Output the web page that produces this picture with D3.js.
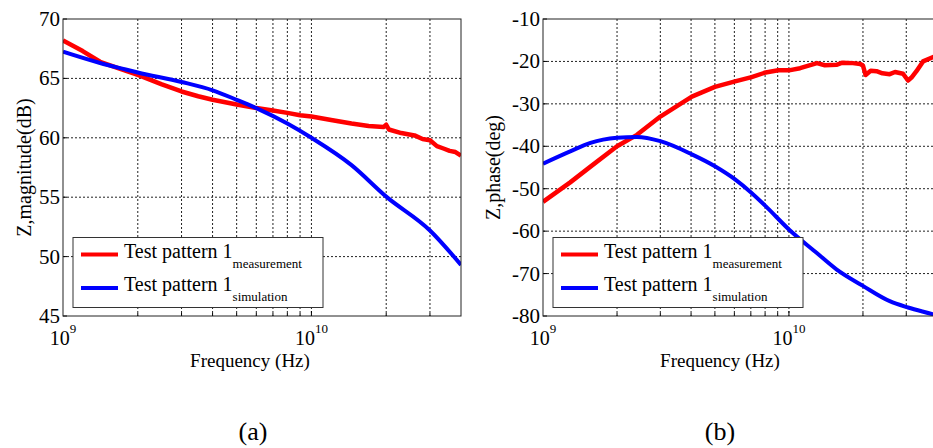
<!DOCTYPE html>
<html>
<head>
<meta charset="utf-8">
<script src="https://cdn.jsdelivr.net/npm/d3@7"></script>
<style>
  body { margin: 0; background: #fff; }
  svg { display: block; }
</style>
</head>
<body>
<div class="d3-container"></div>
<script>
// frequencies in GHz
var magMeasF = [1, 1.2, 1.41, 1.7, 2.0, 2.5, 3.0, 3.5, 4.0, 5.0, 6.0, 7.0, 8.0, 9.0, 10, 12, 14.5, 17, 19.5, 20, 20.5, 23, 26, 28, 30, 32, 34, 36, 38, 40];
var magMeas  = [68.2, 67.3, 66.4, 65.8, 65.3, 64.5, 63.9, 63.5, 63.2, 62.8, 62.5, 62.3, 62.1, 61.9, 61.8, 61.5, 61.2, 61.0, 60.9, 61.1, 60.7, 60.4, 60.2, 59.9, 59.8, 59.3, 59.1, 58.9, 58.8, 58.5];
var magSimF = [1, 1.41, 1.75, 2, 3, 4, 5, 6, 8, 10, 14.5, 20, 30, 40];
var magSim  = [67.25, 66.3, 65.8, 65.5, 64.7, 64.0, 63.2, 62.5, 61.2, 60.0, 57.7, 55.05, 52.2, 49.3];

var phMeasF = [1, 1.29, 1.56, 2.0, 2.41, 3.0, 4.03, 5.0, 6.04, 7.05, 8.04, 9.05, 10, 11.1, 13, 14, 15.6, 16.5, 18.2, 19.5, 20, 20.5, 21.5, 22.7, 24, 25.7, 27, 29.1, 30.5, 31.5, 33, 35.1, 38.4, 40];
var phMeas  = [-53.1, -48.5, -44.8, -40, -37.3, -33.0, -28.3, -26, -24.7, -23.7, -22.6, -22.1, -22.1, -21.6, -20.4, -20.9, -20.8, -20.3, -20.4, -20.6, -21.0, -23.2, -22.2, -22.3, -22.8, -23.0, -22.5, -22.9, -24.5, -23.8, -22.3, -20.0, -19.0, -18.8];
var phSimF = [1, 1.29, 1.56, 2.0, 2.41, 3.0, 4.03, 5.0, 6.04, 7.05, 8.04, 10, 12.95, 15.6, 20, 25.7, 30.5, 38.4, 40];
var phSim  = [-44.1, -41.2, -39.2, -38.0, -37.8, -38.8, -41.9, -44.7, -47.8, -51.0, -54.1, -59.6, -65.1, -69.0, -72.9, -76.5, -78.0, -79.6, -79.9];

var magTicks = [45, 50, 55, 60, 65, 70];
var phTicks = [-80, -70, -60, -50, -40, -30, -20, -10];
var gridF = [2, 3, 4, 5, 6, 7, 8, 9, 10, 20, 30];
var legendNames = ["measurement", "simulation"];
var colors = ["#ff0000", "#0000ff"];

var svg = d3.select(".d3-container").append("svg")
  .attr("width", 933)
  .attr("height", 448);

var plotTop = 19, plotBottom = 316;

const drawPanel = function(opt) {
  var x = d3.scaleLog().domain([1, 40]).range([opt.x0, opt.x1]);
  var y = d3.scaleLinear().domain(opt.yDomain).range([plotBottom, plotTop]);
  var g = svg.append("g");

  g.append("clipPath").attr("id", opt.id)
    .append("rect").attr("x", opt.x0).attr("y", plotTop)
    .attr("width", opt.x1 - opt.x0).attr("height", plotBottom - plotTop);

  // grid
  g.selectAll(".vg").data(gridF).enter().append("line")
    .attr("x1", (d) => x(d)).attr("x2", (d) => x(d))
    .attr("y1", plotTop).attr("y2", plotBottom)
    .style("stroke", "#222").style("stroke-width", 1)
    .style("stroke-dasharray", "2,2");
  g.selectAll(".hg").data(opt.ticks.slice(1, -1)).enter().append("line")
    .attr("x1", opt.x0).attr("x2", opt.x1)
    .attr("y1", (d) => y(d)).attr("y2", (d) => y(d))
    .style("stroke", "#222").style("stroke-width", 1)
    .style("stroke-dasharray", "2,2");

  // tick marks (inward)
  g.selectAll(".yt").data(opt.ticks).enter().append("line")
    .attr("x1", opt.x0).attr("x2", opt.x0 + 4)
    .attr("y1", (d) => y(d)).attr("y2", (d) => y(d))
    .style("stroke", "#000");
  g.selectAll(".xt").data(gridF).enter().append("line")
    .attr("x1", (d) => x(d)).attr("x2", (d) => x(d))
    .attr("y1", plotBottom).attr("y2", (d) => plotBottom - (d == 10 ? 5 : 3))
    .style("stroke", "#000");

  var lineMeas = d3.line()
    .x((d) => x(d[0]))
    .y((d) => y(d[1]));
  var lineSim = d3.line()
    .curve(d3.curveMonotoneX)
    .x((d) => x(d[0]))
    .y((d) => y(d[1]));

  var series = [d3.zip(opt.measF, opt.meas), d3.zip(opt.simF, opt.sim)];
  series.forEach((s, i) => {
    g.append("path")
      .attr("d", i == 0 ? lineMeas(s) : lineSim(s))
      .attr("clip-path", "url(#" + opt.id + ")")
      .style("fill", "none")
      .style("stroke", colors[i])
      .style("stroke-width", i == 0 ? 4.5 : 4)
      .style("stroke-linejoin", "round");
  });

  // frame
  g.append("rect")
    .attr("x", opt.x0).attr("y", plotTop)
    .attr("width", opt.x1 - opt.x0).attr("height", plotBottom - plotTop)
    .style("fill", "none").style("stroke", "#222").style("stroke-width", 1);

  // y tick labels
  g.selectAll(".yl").data(opt.ticks).enter().append("text")
    .attr("x", opt.x0 - 3).attr("y", (d) => y(d) + 7)
    .attr("text-anchor", "end")
    .style("font-size", "21px")
    .text((d) => d);

  // x tick labels
  [[1, "9"], [10, "10"]].forEach((t) => {
    var tx = g.append("text")
      .attr("x", x(t[0])).attr("y", 345)
      .attr("text-anchor", "middle")
      .style("font-size", "20px");
    tx.append("tspan").text("10");
    tx.append("tspan").attr("dy", -12).style("font-size", "13px").text(t[1]);
  });

  g.append("text")
    .attr("x", opt.xLabelX).attr("y", 367)
    .attr("text-anchor", "middle")
    .style("font-size", "19px")
    .text("Frequency (Hz)");

  g.append("text")
    .attr("transform", "translate(" + opt.yLabelX + "," + ((plotTop + plotBottom) / 2) + ") rotate(-90)")
    .attr("text-anchor", "middle")
    .style("font-size", "20px")
    .text(opt.yLabel);

  g.append("text")
    .attr("x", opt.capX).attr("y", 440)
    .attr("text-anchor", "middle")
    .style("font-size", "26px")
    .text(opt.caption);

  // legend
  var lx = opt.x0 + 10, ly = 237.5;
  g.append("rect")
    .attr("x", lx).attr("y", ly).attr("width", 250).attr("height", 70)
    .style("fill", "#fff").style("stroke", "#333").style("stroke-width", 1);
  legendNames.forEach((name, i) => {
    var yy = ly + 17 + i * 33.5;
    g.append("line")
      .attr("x1", lx + 8).attr("x2", lx + 45)
      .attr("y1", yy).attr("y2", yy)
      .style("stroke", colors[i]).style("stroke-width", 4);
    var t = g.append("text")
      .attr("x", lx + 51).attr("y", yy + 3)
      .style("font-size", "20px");
    t.append("tspan").text("Test pattern 1");
    t.append("tspan").attr("dy", 10).style("font-size", "13px").text(name);
  });

  g.selectAll("text").style("font-family", "'Liberation Serif'").style("fill", "#000");
};

drawPanel({
  id: "clipA", x0: 63, x1: 461, yDomain: [45, 70], ticks: magTicks,
  measF: magMeasF, meas: magMeas, simF: magSimF, sim: magSim,
  yLabel: "Z,magnitude(dB)", yLabelX: 31, xLabelX: 250, capX: 253, caption: "(a)"
});

drawPanel({
  id: "clipB", x0: 543, x1: 937, yDomain: [-80, -10], ticks: phTicks,
  measF: phMeasF, meas: phMeas, simF: phSimF, sim: phSim,
  yLabel: "Z,phase(deg)", yLabelX: 500, xLabelX: 720, capX: 720, caption: "(b)"
});
</script>
</body>
</html>
